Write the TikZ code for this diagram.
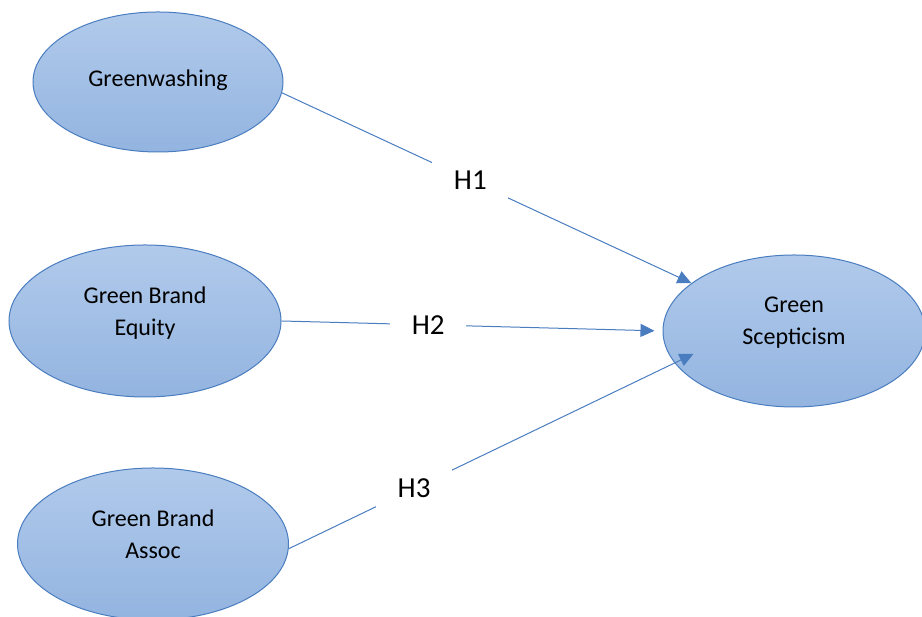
\documentclass[tikz,border=0pt]{standalone}
\usepackage{fontspec}
\setmainfont{Carlito}
\usepackage{tikz}
\usetikzlibrary{arrows.meta,shapes.geometric}
\definecolor{edgeblue}{HTML}{4A7DBF}
\definecolor{filltop}{HTML}{B1CAEB}
\definecolor{fillbot}{HTML}{93B4E0}

\begin{document}
\begin{tikzpicture}[x=1pt, y=1pt, construct/.style={ellipse, draw=edgeblue, line width=1pt, top color=filltop, bottom color=fillbot, align=center, inner sep=0pt, font=\fontsize{24}{32}\selectfont}, hyp/.style={fill=white, text=black, inner sep=0pt, minimum width=76pt, minimum height=40pt, font=\fontsize{29}{32}\selectfont}, arrow/.style={-{Triangle[length=14pt, width=13pt]}, line width=1pt, edgeblue}]
\useasboundingbox (0,0) rectangle (922,617);
\node[construct, minimum width=250pt, minimum height=140pt, text depth=8pt]  (gw) at (158,535) {Greenwashing};
\node[construct, minimum width=272pt, minimum height=152pt, text depth=20pt] (eq) at (145,296) {Green Brand\\Equity};
\node[construct, minimum width=271pt, minimum height=152pt, text depth=20pt] (as) at (153,73)  {Green Brand\\Assoc};
\node[construct, minimum width=262pt, minimum height=152pt, text depth=20pt] (sc) at (794,286) {Green\\Scepticism};
\draw[arrow] (gw.-5) -- node[hyp, pos=0.46] {H1} (sc.155); \draw[arrow, shorten >=8pt] (eq.east) -- node[hyp, pos=0.385] {H2} (sc.west); \draw[arrow, shorten >=-21pt] (as.-2.5) -- node[hyp, pos=0.325] {H3} (sc.195.6);
\end{tikzpicture}
\end{document}
